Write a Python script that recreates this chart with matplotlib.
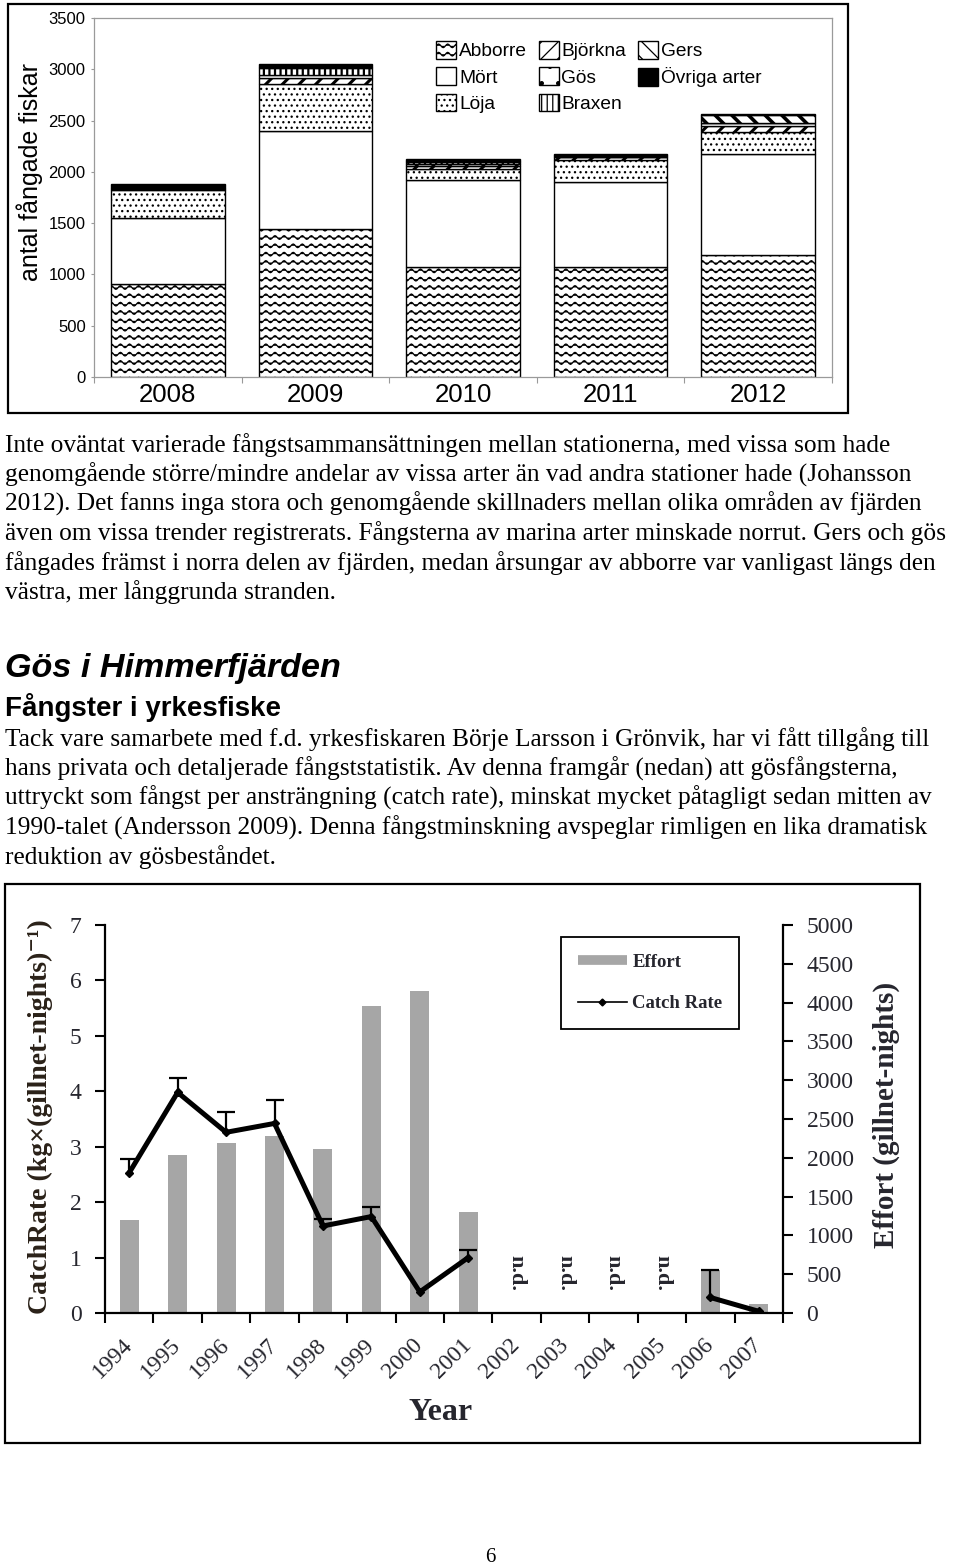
import warnings
import numpy as np
import matplotlib
matplotlib.use('Agg')
import matplotlib.pyplot as plt
import matplotlib.hatch as mhatch
from matplotlib.path import Path
from matplotlib.patches import Rectangle
from matplotlib.lines import Line2D

warnings.filterwarnings('ignore')

# ---- data, top chart: antal fångade fiskar per år och art
years_top = ['2008', '2009', '2010', '2011', '2012']
species = ['Abborre', 'Mört', 'Löja', 'Björkna', 'Gös', 'Braxen', 'Gers', 'Övriga arter']
abborre = [905, 1445, 1070, 1070, 1185]
mort = [645, 955, 855, 830, 985]
loja = [270, 460, 105, 220, 215]
bjorkna = [10, 55, 30, 20, 65]
gos = [5, 30, 15, 5, 30]
braxen = [0, 65, 20, 5, 0]
gers = [10, 10, 15, 15, 75]
ovriga = [40, 32, 12, 13, 5]

# ---- data, bottom chart: gös i Himmerfjärden
years_bot = ['1994', '1995', '1996', '1997', '1998', '1999', '2000',
             '2001', '2002', '2003', '2004', '2005', '2006', '2007']
effort = [1200, 2040, 2185, 2285, 2110, 3950, 4150,
          1300, np.nan, np.nan, np.nan, np.nan, 560, 115]
catch_rate = [2.53, 3.98, 3.26, 3.42, 1.57, 1.74, 0.38,
              1.00, np.nan, np.nan, np.nan, np.nan, 0.28, 0.03]
catch_err = [0.25, 0.26, 0.36, 0.42, 0.12, 0.18, 0.0,
             0.13, np.nan, np.nan, np.nan, np.nan, 0.50, 0.0]
nd_years = ['2002', '2003', '2004', '2005']

para1 = [
    'Inte oväntat varierade fångstsammansättningen mellan stationerna, med vissa som hade',
    'genomgående större/mindre andelar av vissa arter än vad andra stationer hade (Johansson',
    '2012). Det fanns inga stora och genomgående skillnaders mellan olika områden av fjärden',
    'även om vissa trender registrerats. Fångsterna av marina arter minskade norrut. Gers och gös',
    'fångades främst i norra delen av fjärden, medan årsungar av abborre var vanligast längs den',
    'västra, mer långgrunda stranden.',
]
para2 = [
    'Tack vare samarbete med f.d. yrkesfiskaren Börje Larsson i Grönvik, har vi fått tillgång till',
    'hans privata och detaljerade fångststatistik. Av denna framgår (nedan) att gösfångsterna,',
    'uttryckt som fångst per ansträngning (catch rate), minskat mycket påtagligt sedan mitten av',
    '1990-talet (Andersson 2009). Denna fångstminskning avspeglar rimligen en lika dramatisk',
    'reduktion av gösbeståndet.',
]


# wavy hatch for Abborre
class WaveHatch(mhatch.HatchPatternBase):
    def __init__(self, hatch, density):
        self.num_rows = int(hatch.count('~') * density)
        self.periods = 11
        self.steps = 8 * self.periods
        self.num_vertices = self.num_rows * (self.steps + 1)

    def set_vertices_and_codes(self, vertices, codes):
        n = self.steps + 1
        xs = np.linspace(0, 1, n)
        for i in range(self.num_rows):
            ys = (i + 0.5) / self.num_rows + 0.22 / self.num_rows * np.sin(2 * np.pi * self.periods * xs)
            vertices[i * n:(i + 1) * n, 0] = xs
            vertices[i * n:(i + 1) * n, 1] = ys
            codes[i * n] = Path.MOVETO
            codes[i * n + 1:(i + 1) * n] = Path.LINETO


mhatch._hatch_types.append(WaveHatch)

W, H = 960, 1566


def frac_rect(x0, y0, x1, y1):
    return [x0 / W, 1 - y1 / H, (x1 - x0) / W, (y1 - y0) / H]


fig = plt.figure(figsize=(W / 100, H / 100), dpi=100)
fig.patch.set_facecolor('white')

# ---------------- top chart ----------------
sans = 'Liberation Sans'
serif = 'Liberation Serif'
fig.patches.append(Rectangle((8 / W, 1 - 413 / H), 840 / W, 409 / H, transform=fig.transFigure,
                             fill=False, edgecolor='black', lw=1.6))

ax = fig.add_axes(frac_rect(94, 18, 832, 377))
xt = np.arange(len(years_top))
series = [abborre, mort, loja, bjorkna, gos, braxen, gers, ovriga]
hatches = ['~~', None, '...', '//', '.', '|||', '\\\\', None]
faces = ['white'] * 7 + ['black']
hlw = [0.9, 0.9, 0.9, 2.2, 0.9, 1.6, 2.6, 0.9]
bottom = np.zeros(len(years_top))
handles = []
for vals, name, hat, fc, lw in zip(series, species, hatches, faces, hlw):
    plt.rcParams['hatch.linewidth'] = lw
    bc = ax.bar(xt, vals, width=0.77, bottom=bottom, color=fc, edgecolor='black',
                hatch=hat, linewidth=1.0, label=name)
    handles.append(bc)
    bottom += np.array(vals)

ax.set_xlim(-0.5, 4.5)
ax.set_ylim(0, 3500)
ax.set_yticks(np.arange(0, 3501, 500))
ax.set_xticks(np.arange(-0.5, 5, 1))
ax.set_xticklabels([])
ax.set_xticks(xt, minor=True)
ax.set_xticklabels(years_top, minor=True, fontsize=18.5, family=sans)
ax.tick_params(axis='x', which='major', length=4, color='#999999', direction='out')
ax.tick_params(axis='x', which='minor', length=0, pad=4)
ax.tick_params(axis='y', length=2, color='#999999', pad=4)
for lab in ax.get_yticklabels():
    lab.set_fontsize(12)
    lab.set_family(sans)
for sp in ax.spines.values():
    sp.set_color('#9a9a9a')
    sp.set_linewidth(0.9)

fig.text(30 / W, 1 - 172 / H, 'antal fångade fiskar', rotation=90, ha='center', va='center',
         fontsize=18, family=sans)

leg = ax.legend(handles=handles, ncol=3, loc='upper left',
                bbox_to_anchor=(436 / W, 1 - 41 / H), bbox_transform=fig.transFigure,
                frameon=False, prop={'family': sans, 'size': 13.8},
                handlelength=1.05, handleheight=1.05, handletextpad=0.15,
                labelspacing=0.36, columnspacing=0.6, borderpad=0, borderaxespad=0)

# ---------------- text ----------------
for i, line in enumerate(para1):
    fig.text(5 / W, 1 - (452 + i * 29.4) / H, line, fontsize=18.3, family=serif, va='baseline')

fig.text(5 / W, 1 - 677 / H, 'Gös i Himmerfjärden', fontsize=24.6, family=sans,
         weight='bold', style='italic', va='baseline')
fig.text(5 / W, 1 - 716 / H, 'Fångster i yrkesfiske', fontsize=20, family=sans,
         weight='bold', va='baseline')
for i, line in enumerate(para2):
    fig.text(5 / W, 1 - (746 + i * 29.4) / H, line, fontsize=18.3, family=serif, va='baseline')

fig.text(490 / W, 1 - 1562 / H, '6', fontsize=15, family=serif, ha='center', va='baseline')

# ---------------- bottom chart ----------------
fig.patches.append(Rectangle((5 / W, 1 - 1443 / H), 915 / W, 559 / H, transform=fig.transFigure,
                             fill=False, edgecolor='black', lw=1.6))

ink = '#26262e'
ax_b = fig.add_axes(frac_rect(105, 925, 783, 1313))
ax_e = ax_b.twinx()
xb = np.arange(len(years_bot))
ax_e.bar(xb, effort, width=0.39, color='#a6a6a6')
ax_b.set_zorder(ax_e.get_zorder() + 1)
ax_b.patch.set_visible(False)

cr = np.array(catch_rate)
err = np.array(catch_err)
has_err = np.nan_to_num(err) > 0
ax_b.vlines(xb[has_err], cr[has_err], cr[has_err] + err[has_err], color='black', lw=1.6)
ax_b.plot(xb[has_err], cr[has_err] + err[has_err], ls='none', marker='_', ms=13, mew=1.6, color='black')
ax_b.plot(xb, cr, color='black', lw=3.6, marker='D', ms=4.5, solid_joinstyle='miter')

for yr in nd_years:
    ax_b.text(years_bot.index(yr), 0.72, 'n.d.', rotation=-90, ha='center', va='center',
              fontsize=16, family=serif, weight='bold', color=ink)

ax_b.set_xlim(-0.5, len(years_bot) - 0.5)
ax_b.set_ylim(0, 7)
ax_e.set_ylim(0, 5000)
ax_b.set_yticks(range(0, 8))
ax_e.set_yticks(np.arange(0, 5001, 500))
ax_b.set_xticks(np.arange(-0.5, len(years_bot), 1))
ax_b.set_xticklabels([])
ax_b.set_xticks(xb, minor=True)
ax_b.set_xticklabels(years_bot, minor=True, rotation=45, ha='right', va='center',
                     rotation_mode='anchor', fontsize=17, family=serif, color=ink)
ax_b.tick_params(axis='x', which='major', length=7, width=1.5, direction='out')
ax_b.tick_params(axis='x', which='minor', length=0, pad=21)
ax_b.tick_params(axis='y', length=7, width=1.5, pad=10)
ax_e.tick_params(axis='y', length=7, width=1.5, pad=10)
for lab in ax_b.get_yticklabels() + ax_e.get_yticklabels():
    lab.set_fontsize(17)
    lab.set_family(serif)
    lab.set_color(ink)
for a in (ax_b, ax_e):
    a.spines['top'].set_visible(False)
    for sp in a.spines.values():
        sp.set_linewidth(1.6)
ax_b.spines['right'].set_visible(False)
ax_e.spines['left'].set_visible(False)
ax_e.spines['bottom'].set_visible(False)

fig.text(40 / W, 1 - 1117 / H, 'CatchRate (kg×(gillnet-nights)⁻¹)', rotation=90,
         ha='center', va='center', fontsize=20, family=[serif, 'DejaVu Serif'],
         weight='bold', color='#2a2118')
fig.text(886 / W, 1 - 1115 / H, 'Effort (gillnet-nights)', rotation=90,
         ha='center', va='center', fontsize=21, family=serif, weight='bold', color=ink)
fig.text(441 / W, 1 - 1413 / H, 'Year', ha='center', va='center', fontsize=23,
         family=serif, weight='bold', color=ink)

leg_handles = [Line2D([], [], color='#a6a6a6', lw=7, solid_capstyle='butt'),
               Line2D([], [], color='black', lw=1.2, marker='D', ms=3.5)]
lg = ax_b.legend(leg_handles, ['Effort', 'Catch Rate'], loc='upper left',
                 bbox_to_anchor=(561 / W, 1 - 937 / H), bbox_transform=fig.transFigure,
                 prop={'family': serif, 'weight': 'bold', 'size': 13.5},
                 handlelength=2.6, handletextpad=0.3, labelspacing=1.3, borderpad=0.9,
                 fancybox=False, framealpha=1, edgecolor='black', borderaxespad=0)
lg.get_frame().set_linewidth(1.3)
for t in lg.get_texts():
    t.set_color(ink)

fig.savefig('out.png', dpi=100)
